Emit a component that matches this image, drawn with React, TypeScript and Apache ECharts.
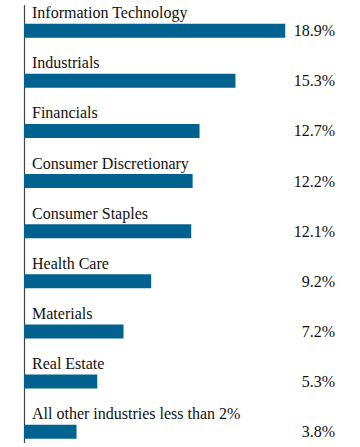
import React, { useEffect, useRef } from "react";
import * as echarts from "echarts";

const categories = [
  "Information Technology",
  "Industrials",
  "Financials",
  "Consumer Discretionary",
  "Consumer Staples",
  "Health Care",
  "Materials",
  "Real Estate",
  "All other industries less than 2%",
];
const values = [18.9, 15.3, 12.7, 12.2, 12.1, 9.2, 7.2, 5.3, 3.8];
const valueLabels = ["18.9%", "15.3%", "12.7%", "12.2%", "12.1%", "9.2%", "7.2%", "5.3%", "3.8%"];

const FONT = "Liberation Serif";

export default function App() {
  const ref = useRef<HTMLDivElement>(null);
  useEffect(() => {
    if (!ref.current) return;
    const chart = echarts.init(ref.current, undefined, { renderer: "svg" });
    chart.setOption({
      animation: false,
      grid: { left: 24, right: 25, top: 5.7, height: 451, containLabel: false },
      xAxis: {
        type: "value",
        min: 0,
        max: 22.5,
        show: false,
      },
      yAxis: [
        {
          type: "category",
          data: categories,
          inverse: true,
          position: "left",
          axisLine: { show: true, lineStyle: { color: "#444", width: 1.2 } },
          axisTick: { show: false },
          splitLine: { show: false },
          axisLabel: { show: false },
        },
        {
          type: "category",
          data: valueLabels,
          inverse: true,
          position: "right",
          axisLine: { show: false },
          axisTick: { show: false },
          splitLine: { show: false },
          axisLabel: {
            inside: true,
            margin: 0,
            align: "right",
            verticalAlign: "middle",
            padding: [16, 0, 0, 0],
            fontFamily: FONT,
            fontSize: 16,
            color: "#111",
          },
        },
      ],
      series: [
        {
          type: "bar",
          data: values,
          yAxisIndex: 0,
          barWidth: 14,
          itemStyle: { color: "#02628f" },
          silent: true,
          label: {
            show: true,
            position: [8, -3],
            align: "left",
            verticalAlign: "bottom",
            formatter: (p: any) => categories[p.dataIndex],
            fontFamily: FONT,
            fontSize: 16,
            color: "#111",
          },
        },
      ],
    });
    return () => chart.dispose();
  }, []);
  return (
    <div
      style={{
        position: "absolute",
        left: 0,
        top: 0,
        width: 360,
        height: 443,
        overflow: "hidden",
      }}
    >
      <div ref={ref} style={{ width: 360, height: 480 }} />
    </div>
  );
}
